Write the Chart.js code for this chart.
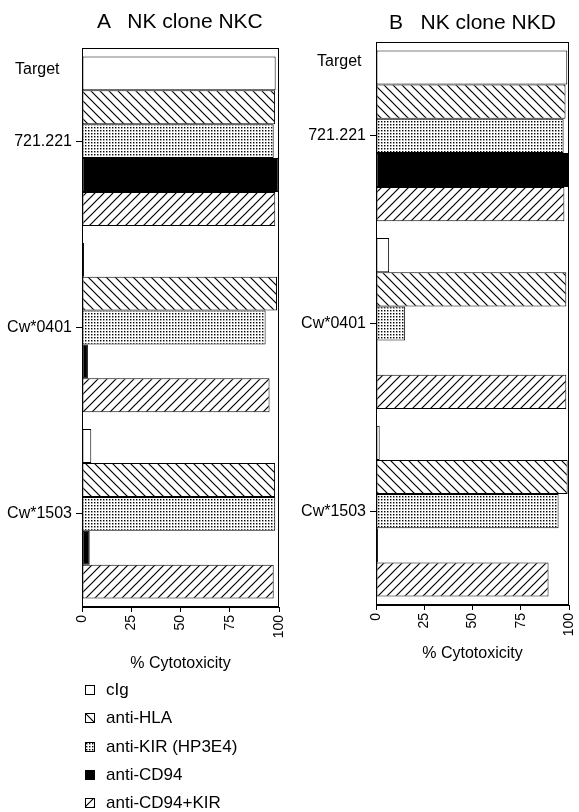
<!DOCTYPE html>
<html><head><meta charset="utf-8">
<script src="https://cdn.jsdelivr.net/npm/chart.js@4.4.1/dist/chart.umd.min.js"></script>
<style>
body{margin:0;background:#fff;width:579px;height:812px;position:relative;overflow:hidden;font-family:"Liberation Sans",Arial,sans-serif;color:#000}
.abs{position:absolute;white-space:pre;line-height:1}
canvas{position:absolute;top:0}
</style></head><body>
<canvas id="cA" width="290" height="700" style="left:0"></canvas>
<canvas id="cB" width="289" height="700" style="left:290px"></canvas>
<div class="abs" style="left:97px;top:10px;font-size:21px">A   NK clone NKC</div>
<div class="abs" style="left:389px;top:11px;font-size:21px">B   NK clone NKD</div>
<div class="abs" style="left:15px;top:61px;font-size:16px">Target</div>
<div class="abs" style="left:317px;top:53px;font-size:16px">Target</div>
<div id="legend"></div>
<script>
// ---- data ----
const categories = ['721.221', 'Cw*0401', 'Cw*1503'];
const seriesNames = ['cIg', 'anti-HLA', 'anti-KIR (HP3E4)', 'anti-CD94', 'anti-CD94+KIR'];
const xTicks = [0, 25, 50, 75, 100];
// Panel A: NK clone NKC (% cytotoxicity)
const nkcIg      = [98.3, 1.0, 4.7];
const nkcHLA     = [98.0, 99.0, 98.0];
const nkcKIR     = [97.3, 93.2, 98.1];
const nkcCD94    = [99.8, 3.0, 3.9];
const nkcCD94KIR = [98.1, 95.2, 97.3];
// Panel B: NK clone NKD (% cytotoxicity)
const nkdIg      = [99.1, 6.8, 1.9];
const nkdHLA     = [98.2, 98.6, 99.3];
const nkdKIR     = [97.2, 15.1, 94.6];
const nkdCD94    = [100, 0.8, 1.0];
const nkdCD94KIR = [97.6, 98.6, 89.4];

const FAMILY = '"Liberation Sans", Arial, sans-serif';

function tile(kind){
  const c = document.createElement('canvas');
  if (kind === 'dots'){
    c.width = c.height = 3;
    const g = c.getContext('2d');
    g.fillStyle = '#fff'; g.fillRect(0,0,3,3);
    g.fillStyle = '#000'; g.fillRect(1,1,1,1);
    g.fillStyle = '#999'; g.fillRect(2,1,1,1); g.fillRect(1,2,1,1);
    g.fillStyle = '#ccc'; g.fillRect(2,2,1,1);
    return c;
  }
  const s = 9; c.width = c.height = s;
  const g = c.getContext('2d');
  g.fillStyle = '#fff'; g.fillRect(0,0,s,s);
  g.strokeStyle = '#000'; g.lineWidth = 1.2;
  g.beginPath();
  if (kind === 'back'){
    g.moveTo(-1,-1); g.lineTo(s+1,s+1);
    g.moveTo(-1,s-1); g.lineTo(1,s+1);
    g.moveTo(s-1,-1); g.lineTo(s+1,1);
  } else {
    g.moveTo(-1,s+1); g.lineTo(s+1,-1);
    g.moveTo(-1,1); g.lineTo(1,-1);
    g.moveTo(s-1,s+1); g.lineTo(s+1,s-1);
  }
  g.stroke();
  return c;
}
function fillsFor(ctx){
  return ['#ffffff', ctx.createPattern(tile('back'),'repeat'), ctx.createPattern(tile('dots'),'repeat'), '#000000', ctx.createPattern(tile('fwd'),'repeat')];
}

const framePlugin = {
  id: 'frame',
  afterDatasetsDraw(chart){
    const {ctx, chartArea: a} = chart;
    ctx.save();
    ctx.strokeStyle = '#000'; ctx.lineWidth = 1;
    ctx.strokeRect(Math.round(a.left)+0.5, Math.round(a.top)+0.5, Math.round(a.right-a.left)-1, Math.round(a.bottom-a.top)-1);
    ctx.restore();
  }
};

function buildChart(id, values, cfg){
  const ctx = document.getElementById(id).getContext('2d');
  const fills = fillsFor(ctx);
  return new Chart(ctx, {
    type: 'bar',
    data: {
      labels: categories,
      datasets: seriesNames.map((n, i) => ({
        label: n, data: values[i], backgroundColor: fills[i],
        borderColor: '#000', borderWidth: 1, borderSkipped: false,
        barPercentage: 1, categoryPercentage: 0.91
      }))
    },
    options: {
      indexAxis: 'y', responsive: false, animation: false,
      layout: {padding: {top: cfg.top, right: cfg.right, left: 0, bottom: 0}},
      plugins: {legend: {display: false}, tooltip: {enabled: false}},
      scales: {
        x: {
          min: 0, max: 100,
          afterBuildTicks: s => { s.ticks = xTicks.map(v => ({value: v})); },
          ticks: {color: '#000', font: {family: FAMILY, size: 14}, minRotation: 90, maxRotation: 90, padding: 3},
          grid: {drawOnChartArea: false, drawTicks: true, tickLength: 5, color: '#000'},
          border: {color: '#000', width: 1},
          title: {display: true, text: '% Cytotoxicity', color: '#000', font: {family: FAMILY, size: 16}, padding: {top: 0, bottom: cfg.titlePad}},
          afterFit: s => { s.height = cfg.xh; s.paddingLeft = 0; s.paddingRight = 0; }
        },
        y: {
          ticks: {color: '#000', font: {family: FAMILY, size: 16}, padding: 4},
          grid: {drawOnChartArea: false, offset: false, drawTicks: true, tickLength: 6, color: '#000'},
          border: {color: '#000', width: 1},
          afterFit: s => { s.width = cfg.yw; s.paddingTop = 0; s.paddingBottom = 0; }
        }
      }
    },
    plugins: [framePlugin]
  });
}

buildChart('cA', [nkcIg, nkcHLA, nkcKIR, nkcCD94, nkcCD94KIR], {yw: 82, top: 48, right: 11, xh: 93, titlePad: 27});
buildChart('cB', [nkdIg, nkdHLA, nkdKIR, nkdCD94, nkdCD94KIR], {yw: 86, top: 42, right: 10, xh: 95, titlePad: 37});

// legend
const legendTops = [681, 709, 738, 766, 794];
const kinds = ['plain', 'back', 'dots', 'black', 'fwd'];
const leg = document.getElementById('legend');
seriesNames.forEach((n, i) => {
  const sw = document.createElement('canvas');
  sw.width = 10; sw.height = 10;
  sw.style.cssText = 'position:absolute;left:85px;top:' + (legendTops[i] + 3.5) + 'px';
  const g = sw.getContext('2d');
  const k = kinds[i];
  g.fillStyle = k === 'plain' ? '#fff' : k === 'black' ? '#000' : g.createPattern(tile(k), 'repeat');
  g.fillRect(0, 0, 10, 10);
  g.strokeStyle = '#000'; g.lineWidth = 1; g.strokeRect(0.5, 0.5, 9, 9);
  leg.appendChild(sw);
  const t = document.createElement('div');
  t.className = 'abs';
  t.style.cssText += ';left:106px;top:' + legendTops[i] + 'px;font-size:17px';
  t.textContent = n;
  leg.appendChild(t);
});
</script>
</body></html>
